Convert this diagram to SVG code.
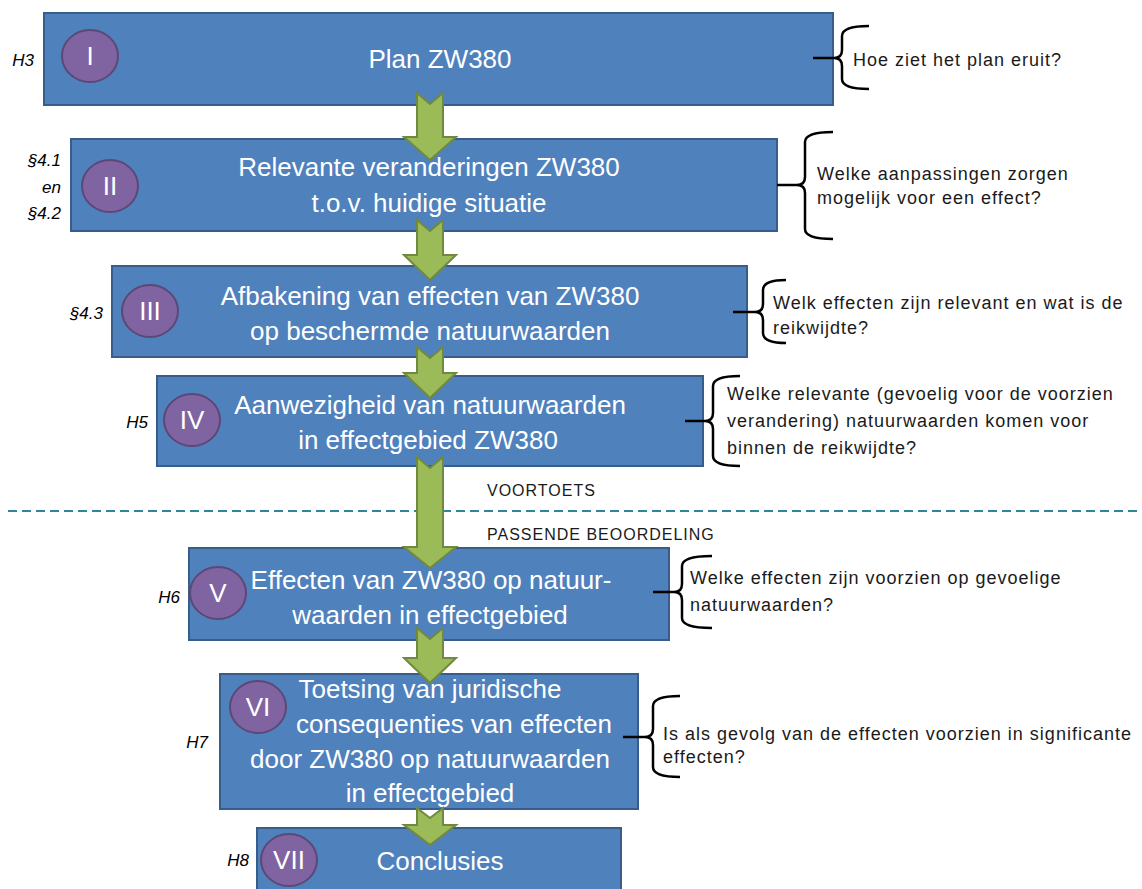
<svg xmlns="http://www.w3.org/2000/svg" width="1142" height="889" viewBox="0 0 1142 889">
<style>
.box{fill:#4f81bd;stroke:#385d8a;stroke-width:2}
.num{fill:#8064a2;stroke:#5c4776;stroke-width:2}
.bt{font-family:"Liberation Sans",Arial,sans-serif;font-size:26px;fill:#ffffff;text-anchor:middle}
.side{font-family:"Liberation Sans",Arial,sans-serif;font-size:18px;fill:#1a1a1a;letter-spacing:1px}
.lab{font-family:"Liberation Sans",Arial,sans-serif;font-size:17px;font-style:italic;fill:#000;text-anchor:end}
.phase{font-family:"Liberation Sans",Arial,sans-serif;font-size:16px;fill:#1a1a1a;letter-spacing:1px}
.arrow{fill:#9bbb59;stroke:#71893f;stroke-width:2;stroke-linejoin:miter}
.brace{fill:none;stroke:#000;stroke-width:2.5;stroke-linecap:butt}
</style>
<rect width="1142" height="889" fill="#ffffff"/>

<line x1="8" y1="511" x2="1142" y2="511" stroke="#31849b" stroke-width="2" stroke-dasharray="9 5"/>
<text class="phase" x="487" y="496">VOORTOETS</text>
<text class="phase" x="487" y="540">PASSENDE BEOORDELING</text>

<g id="node1">
<rect class="box" x="44" y="13" width="789" height="92"/>
<ellipse class="num" cx="90" cy="56" rx="28" ry="26"/>
<text class="bt" x="90" y="65">I</text>
<text class="bt" x="440" y="68">Plan ZW380</text>
<text class="lab" x="34" y="66">H3</text>
</g>

<g id="node2">
<rect class="box" x="71" y="139" width="706" height="92"/>
<ellipse class="num" cx="110" cy="186" rx="28" ry="26"/>
<text class="bt" x="110" y="195">II</text>
<text class="bt" x="429" y="176">Relevante veranderingen ZW380</text>
<text class="bt" x="429" y="212">t.o.v. huidige situatie</text>
<text class="lab" x="61" y="166">§4.1</text>
<text class="lab" x="61" y="193">en</text>
<text class="lab" x="61" y="219">§4.2</text>
</g>

<g id="node3">
<rect class="box" x="112" y="266" width="635" height="91"/>
<ellipse class="num" cx="150" cy="311" rx="28" ry="26"/>
<text class="bt" x="150" y="320">III</text>
<text class="bt" x="430" y="305">Afbakening van effecten van ZW380</text>
<text class="bt" x="430" y="340">op beschermde natuurwaarden</text>
<text class="lab" x="103" y="319">§4.3</text>
</g>

<g id="node4">
<rect class="box" x="157" y="376" width="546" height="90"/>
<ellipse class="num" cx="192" cy="420" rx="28" ry="26"/>
<text class="bt" x="192" y="429">IV</text>
<text class="bt" x="430" y="414">Aanwezigheid van natuurwaarden</text>
<text class="bt" x="428" y="449">in effectgebied ZW380</text>
<text class="lab" x="148" y="428">H5</text>
</g>

<g id="node5">
<rect class="box" x="189" y="548" width="480" height="92"/>
<ellipse class="num" cx="218" cy="593" rx="28" ry="26"/>
<text class="bt" x="218" y="602">V</text>
<text class="bt" x="431" y="589">Effecten van ZW380 op natuur-</text>
<text class="bt" x="430" y="624">waarden in effectgebied</text>
<text class="lab" x="180" y="603">H6</text>
</g>

<g id="node6">
<rect class="box" x="220" y="674" width="418" height="135"/>
<ellipse class="num" cx="258" cy="707" rx="28" ry="26"/>
<text class="bt" x="258" y="716">VI</text>
<text class="bt" x="430" y="698">Toetsing van juridische</text>
<text class="bt" x="454" y="733">consequenties van effecten</text>
<text class="bt" x="430" y="768">door ZW380 op natuurwaarden</text>
<text class="bt" x="430" y="802">in effectgebied</text>
<text class="lab" x="208" y="748">H7</text>
</g>

<g id="node7">
<rect class="box" x="257" y="828" width="364" height="80"/>
<ellipse class="num" cx="289" cy="860" rx="28" ry="26"/>
<text class="bt" x="289" y="869">VII</text>
<text class="bt" x="440" y="870">Conclusies</text>
<text class="lab" x="249" y="866">H8</text>
</g>

<g id="connectors">
<polygon class="arrow" points="417,93 430,104 443,93 443,137 456,137 430,160 404,137 417,137"/>
<polygon class="arrow" points="417,220 430,231 443,220 443,255 456,255 430,280 404,255 417,255"/>
<polygon class="arrow" points="417,347 430,358 443,347 443,373 456,373 430,398 404,373 417,373"/>
<polygon class="arrow" points="417,457 430,468 443,457 443,547 456,547 430,568 404,547 417,547"/>
<polygon class="arrow" points="417,628 430,639 443,628 443,658 456,658 430,683 404,658 417,658"/>
<polygon class="arrow" points="417,808 430,818 443,808 443,825 456,825 430,845 404,825 417,825"/>
</g>

<g id="question1">
<line class="brace" x1="813" y1="58" x2="834" y2="58"/>
<path class="brace" d="M869,26 Q842,26 842,36 L842,50 Q842,58 834,58 Q842,58 842,66 L842,79 Q842,89 869,89"/>
<text class="side" x="853" y="66">Hoe ziet het plan eruit?</text>
</g>

<g id="question2">
<line class="brace" x1="777" y1="185" x2="797" y2="185"/>
<path class="brace" d="M833,132 Q805,132 805,142 L805,177 Q805,185 797,185 Q805,185 805,193 L805,229 Q805,239 833,239"/>
<text class="side" x="817" y="180">Welke aanpassingen zorgen</text>
<text class="side" x="817" y="204">mogelijk voor een effect?</text>
</g>

<g id="question3">
<line class="brace" x1="733" y1="312" x2="755" y2="312"/>
<path class="brace" d="M786,280 Q763,280 763,290 L763,304 Q763,312 755,312 Q763,312 763,320 L763,333 Q763,343 786,343"/>
<text class="side" x="773" y="309">Welk effecten zijn relevant en wat is de</text>
<text class="side" x="773" y="334">reikwijdte?</text>
</g>

<g id="question4">
<line class="brace" x1="685" y1="421" x2="705" y2="421"/>
<path class="brace" d="M740,376 Q713,376 713,386 L713,413 Q713,421 705,421 Q713,421 713,429 L713,456 Q713,466 740,466"/>
<text class="side" x="727" y="400">Welke relevante (gevoelig voor de voorzien</text>
<text class="side" x="727" y="427">verandering) natuurwaarden komen voor</text>
<text class="side" x="727" y="454">binnen de reikwijdte?</text>
</g>

<g id="question5">
<line class="brace" x1="653" y1="592" x2="674" y2="592"/>
<path class="brace" d="M712,556 Q682,556 682,566 L682,584 Q682,592 674,592 Q682,592 682,600 L682,618 Q682,628 712,628"/>
<text class="side" x="690" y="584">Welke effecten zijn voorzien op gevoelige</text>
<text class="side" x="690" y="611">natuurwaarden?</text>
</g>

<g id="question6">
<line class="brace" x1="623" y1="737" x2="645" y2="737"/>
<path class="brace" d="M680,696 Q653,696 653,706 L653,729 Q653,737 645,737 Q653,737 653,745 L653,767 Q653,777 680,777"/>
<text class="side" x="663" y="740">Is als gevolg van de effecten voorzien in significante</text>
<text class="side" x="663" y="763">effecten?</text>
</g>
</svg>
